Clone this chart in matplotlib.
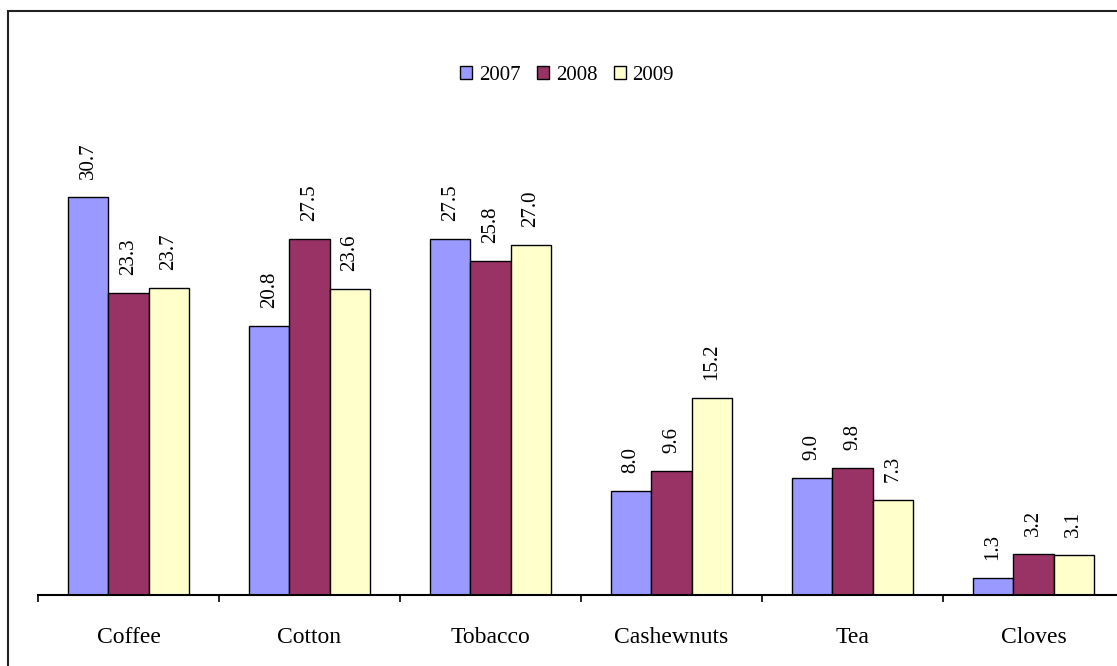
import numpy as np
import matplotlib.pyplot as plt
from matplotlib.patches import Rectangle

plt.rcParams['font.family'] = ['Liberation Serif', 'DejaVu Serif']

crops = ["Coffee", "Cotton", "Tobacco", "Cashewnuts", "Tea", "Cloves"]
years = ["2007", "2008", "2009"]
share_2007 = [30.7, 20.8, 27.5, 8.0, 9.0, 1.3]
share_2008 = [23.3, 27.5, 25.8, 9.6, 9.8, 3.2]
share_2009 = [23.7, 23.6, 27.0, 15.2, 7.3, 3.1]
colors = ["#9999FF", "#993366", "#FFFFCC"]

W, H = 1117, 666
fig = plt.figure(figsize=(W / 100, H / 100), dpi=100)

# axes run past the right edge, like the source sheet
ax = fig.add_axes([38 / W, (H - 595) / H, (1124 - 38) / W, (595 - 77) / H])

x = np.arange(len(crops))
bw = 0.223
for i, (vals, c, lab) in enumerate(zip([share_2007, share_2008, share_2009], colors, years)):
    pos = x + (i - 1) * bw
    ax.bar(pos, vals, width=bw, color=c, edgecolor="black", linewidth=1.0, label=lab)
    for p, v in zip(pos, vals):
        ax.annotate(f"{v:.1f}", (p, v), xytext=(0, 13), textcoords="offset points",
                    ha="center", va="bottom", rotation=90, fontsize=15)

ax.set_xlim(-0.5, len(crops) - 0.5)
ax.set_ylim(0, 40)
ax.set_yticks([])
for s in ["top", "right", "left"]:
    ax.spines[s].set_visible(False)
ax.spines["bottom"].set_linewidth(1.5)

ax.set_xticks(x)
ax.set_xticklabels(crops, fontsize=17)
ax.tick_params(axis="x", which="major", length=0, pad=23)
ax.set_xticks(np.arange(len(crops) + 1) - 0.5, minor=True)
ax.tick_params(axis="x", which="minor", length=5, width=1.2, direction="out")

leg = fig.legend(loc="center", bbox_to_anchor=(567 / W, (H - 75) / H), ncol=3,
                 frameon=False, fontsize=15, handlelength=0.6, handleheight=0.6,
                 handletextpad=0.3, columnspacing=0.8)

# outer chart border
fig.patches.append(Rectangle((8 / W, -0.1), 1.2, (H - 11) / H + 0.1,
                             transform=fig.transFigure, fill=False,
                             edgecolor="#222222", linewidth=1.5))

fig.savefig("out.png", dpi=100)
